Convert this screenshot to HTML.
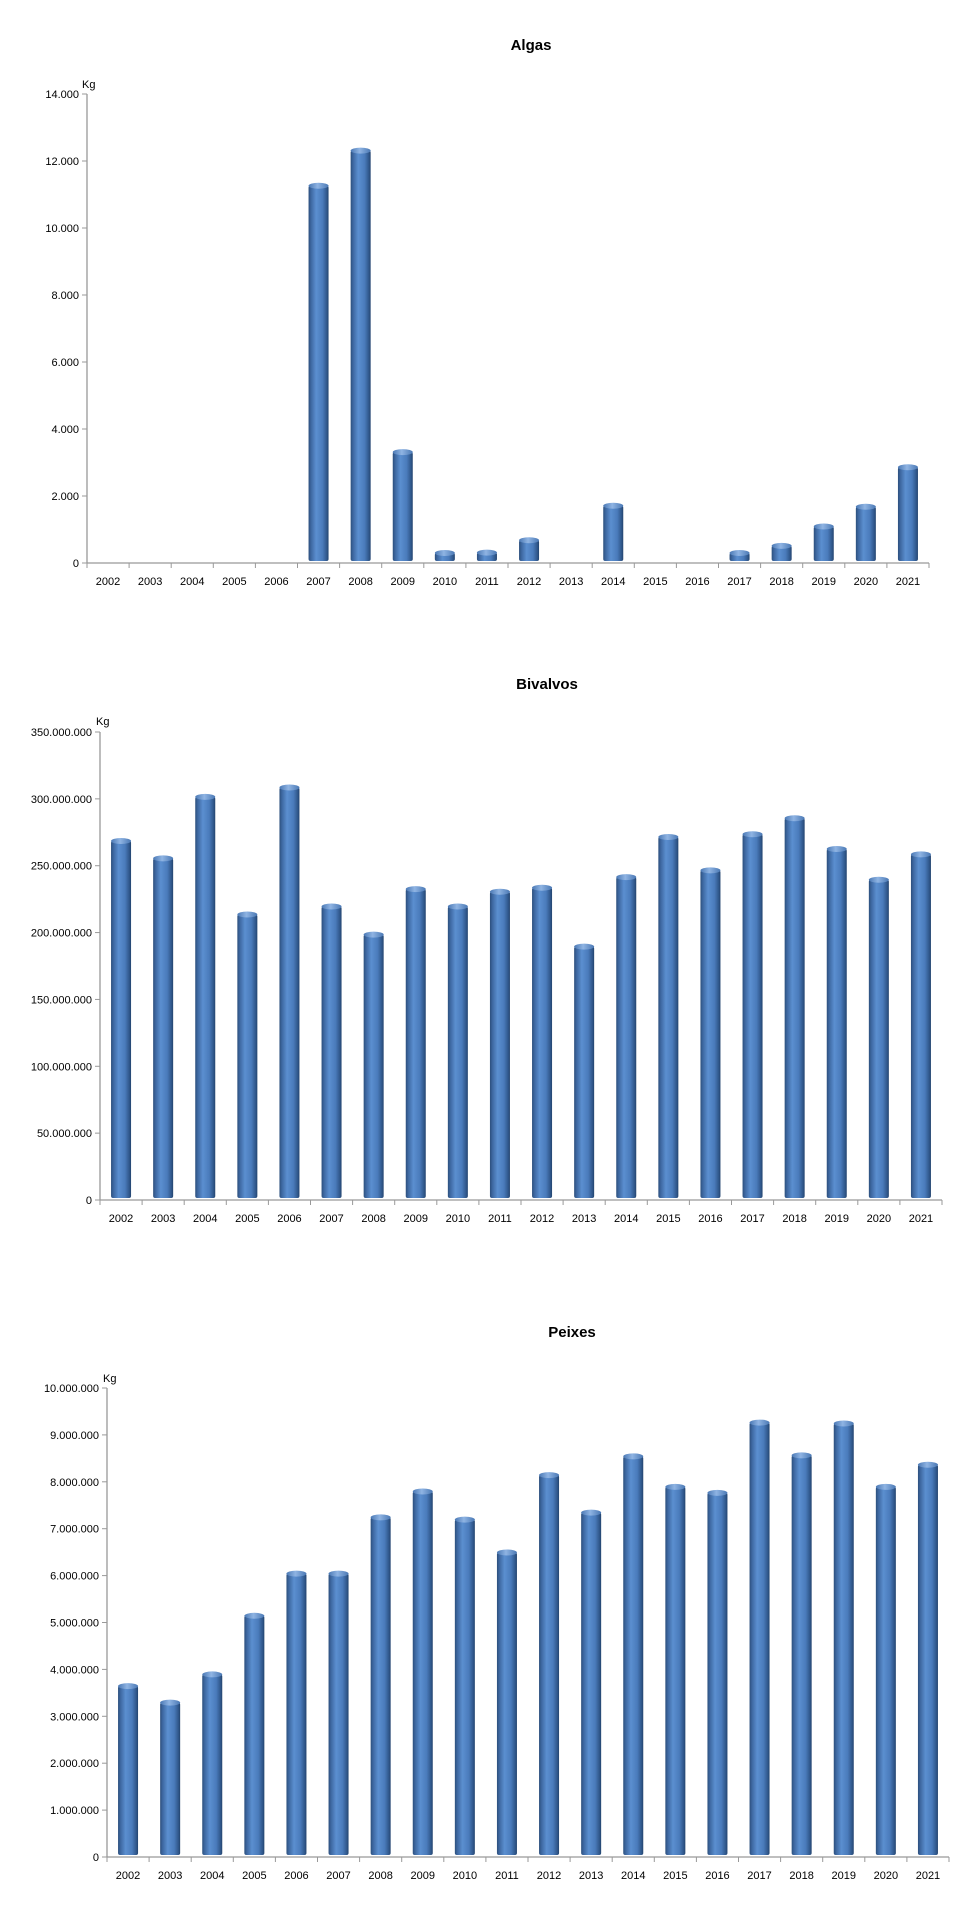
<!DOCTYPE html>
<html><head><meta charset="utf-8"><style>
html,body{margin:0;padding:0;background:#fff;}
svg{display:block;font-family:"Liberation Sans",sans-serif;}
</style></head><body>
<svg id="s" width="979" height="1909" xmlns="http://www.w3.org/2000/svg">
<defs>
<linearGradient id="g" x1="0" x2="1" y1="0" y2="0">
<stop offset="0" stop-color="#2c4f7c"/>
<stop offset="0.12" stop-color="#3d67a0"/>
<stop offset="0.38" stop-color="#5b8fd0"/>
<stop offset="0.7" stop-color="#4a7bbb"/>
<stop offset="0.92" stop-color="#2f5689"/>
<stop offset="1" stop-color="#23436d"/>
</linearGradient>
<linearGradient id="t" x1="0" x2="1" y1="0" y2="0">
<stop offset="0" stop-color="#4a78b4"/>
<stop offset="0.45" stop-color="#8fb4e3"/>
<stop offset="1" stop-color="#4a78b4"/>
</linearGradient>
</defs>
</svg>
<script>
var s=document.getElementById('s'),NS='http://www.w3.org/2000/svg';
function el(n,a,txt){var e=document.createElementNS(NS,n);for(var k in a)e.setAttribute(k,a[k]);if(txt!=null)e.textContent=txt;s.appendChild(e);return e;}
function fmt(v){return v.toString().replace(/\B(?=(\d{3})+(?!\d))/g,'.');}
function chart(c){
 var x0=c.x0,x1=c.x1,y0=c.y0,yt=c.yt,cw=(x1-x0)/20;
 el('text',{x:c.tx,y:c.ty,'font-size':15,'font-weight':'bold','text-anchor':'middle',fill:'#000'},c.title);
 el('text',{x:c.kx,y:c.ky,'font-size':11,fill:'#000'},'Kg');
 el('line',{x1:x0,y1:yt,x2:x0,y2:y0,stroke:'#999','stroke-width':1.3});
 el('line',{x1:x0,y1:y0,x2:x1,y2:y0,stroke:'#999','stroke-width':1.3});
 for(var i=0;i<=c.n;i++){var v=c.step*i,y=y0-(y0-yt)*i/c.n;
  el('line',{x1:x0-5,y1:y,x2:x0,y2:y,stroke:'#999'});
  el('text',{x:x0-8,y:y+4,'font-size':11,'text-anchor':'end',fill:'#000'},fmt(v));}
 for(var j=0;j<=20;j++){var x=x0+cw*j;el('line',{x1:x,y1:y0,x2:x,y2:y0+5,stroke:'#999'});}
 for(var j=0;j<20;j++){var cx=x0+cw*(j+0.5);
  el('text',{x:cx,y:c.ly,'font-size':11,'text-anchor':'middle',fill:'#000'},2002+j);
  var v=c.vals[j];if(!v)continue;
  var h=(y0-yt)*v/(c.step*c.n),bw=20,bx=cx-bw/2,top=y0-2-h;
  if(h<8){top=y0-10;}
  el('rect',{x:bx,y:top,width:bw,height:y0-2-top,fill:'url(#g)',rx:2});
  el('ellipse',{cx:cx,cy:top,rx:bw/2,ry:3,fill:'url(#t)'});
 }
}
chart({title:'Algas',tx:531,ty:50,kx:82,ky:88,x0:87,x1:929,y0:563,yt:94,n:7,step:2000,ly:585,
 vals:[0,0,0,0,0,11200,12250,3250,200,250,620,0,1650,0,0,130,450,1030,1620,2800]});
chart({title:'Bivalvos',tx:547,ty:689,kx:96,ky:725,x0:100,x1:942,y0:1200,yt:732,n:7,step:50000000,ly:1222,
 vals:[267,254,300,212,307,218,197,231,218,229,232,188,240,270,245,272,284,261,238,257].map(function(v){return v*1e6;})});
chart({title:'Peixes',tx:572,ty:1337,kx:103,ky:1382,x0:107,x1:949,y0:1857,yt:1388,n:10,step:1000000,ly:1879,
 vals:[3.6,3.25,3.85,5.1,6.0,6.0,7.2,7.75,7.15,6.45,8.1,7.3,8.5,7.85,7.72,9.22,8.52,9.2,7.85,8.32].map(function(v){return v*1e6;})});
</script>
</body></html>
